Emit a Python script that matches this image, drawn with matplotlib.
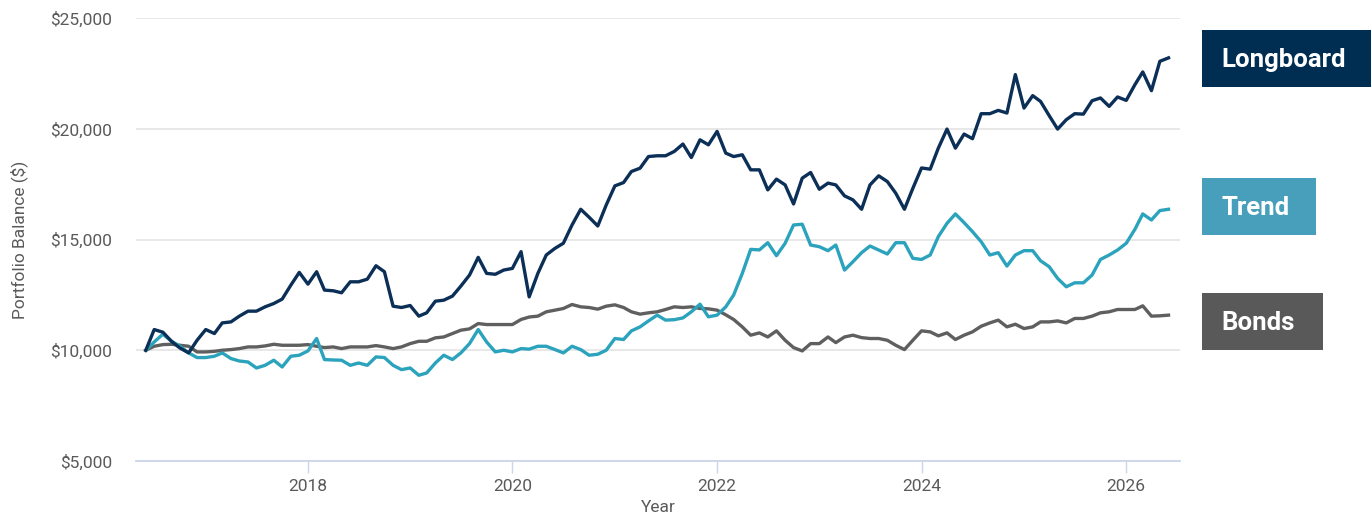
import numpy as np
import pandas as pd
from matplotlib import pyplot as plt
import matplotlib.dates as mdates
from matplotlib.patches import Rectangle
from matplotlib.ticker import FuncFormatter

plt.rcParams['font.family'] = ['Roboto', 'DejaVu Sans']

# monthly portfolio balances, June 2016 - June 2026
months = pd.date_range('2016-06-01', periods=121, freq='MS')

longboard = [10000, 10935, 10815, 10400, 10100, 9880, 10450, 10935, 10755, 11235,
             11280, 11540, 11765, 11765, 11960, 12110, 12310, 12940, 13515, 12985,
             13545, 12715, 12685, 12595, 13090, 13090, 13210, 13815, 13545, 11990,
             11930, 12020, 11540, 11690, 12215, 12260, 12445, 12895, 13395, 14195,
             13470, 13430, 13620, 13695, 14450, 12410, 13470, 14300, 14600, 14830,
             15655, 16365, 16005, 15610, 16555, 17420, 17570, 18070, 18220, 18745,
             18780, 18780, 18975, 19310, 18700, 19500, 19275, 19880, 18900, 18745,
             18825, 18145, 18145, 17240, 17725, 17465, 16605, 17770, 18025, 17270,
             17545, 17465, 16970, 16790, 16365, 17465, 17875, 17615, 17090, 16365,
             17310, 18230, 18175, 19125, 19985, 19125, 19760, 19550, 20680, 20680,
             20830, 20710, 22445, 20935, 21495, 21235, 20590, 19985, 20410, 20680,
             20660, 21265, 21390, 21010, 21435, 21280, 21990, 22565, 21720, 23045,
             23200]

trend = [10000, 10375, 10725, 10405, 10180, 9880, 9670, 9670, 9730, 9880,
         9625, 9515, 9470, 9200, 9320, 9550, 9245, 9730, 9775, 9970,
         10530, 9580, 9560, 9550, 9320, 9425, 9320, 9700, 9670, 9320,
         9125, 9200, 8870, 8975, 9425, 9775, 9580, 9880, 10300, 10935,
         10375, 9925, 10000, 9925, 10075, 10050, 10180, 10180, 10030, 9880,
         10180, 10030, 9775, 9820, 10000, 10530, 10485, 10875, 11055, 11325,
         11585, 11360, 11380, 11460, 11735, 12080, 11510, 11585, 11960, 12490,
         13470, 14555, 14530, 14855, 14270, 14830, 15655, 15690, 14750, 14675,
         14495, 14750, 13620, 13995, 14405, 14705, 14525, 14345, 14855, 14855,
         14150, 14100, 14300, 15130, 15730, 16155, 15760, 15355, 14900, 14300,
         14405, 13800, 14300, 14495, 14495, 14040, 13770, 13245, 12865, 13045,
         13045, 13395, 14100, 14300, 14525, 14830, 15460, 16155, 15880, 16305,
         16365]

bonds = [10000, 10180, 10255, 10270, 10225, 10180, 9925, 9925, 9950, 10000,
         10030, 10075, 10150, 10150, 10195, 10270, 10225, 10225, 10225, 10255,
         10180, 10120, 10150, 10075, 10150, 10150, 10150, 10210, 10150, 10075,
         10150, 10300, 10405, 10405, 10560, 10600, 10755, 10905, 10965, 11205,
         11160, 11160, 11160, 11160, 11390, 11500, 11540, 11735, 11810, 11885,
         12065, 11960, 11930, 11855, 11990, 12050, 11930, 11735, 11630, 11690,
         11735, 11840, 11960, 11930, 11960, 11885, 11870, 11810, 11600, 11390,
         11055, 10680, 10785, 10600, 10875, 10450, 10120, 9970, 10300, 10300,
         10600, 10345, 10600, 10680, 10570, 10530, 10530, 10450, 10225, 10030,
         10450, 10875, 10830, 10650, 10785, 10485, 10680, 10830, 11085, 11235,
         11360, 11055, 11175, 10980, 11055, 11280, 11280, 11325, 11235, 11435,
         11435, 11540, 11690, 11735, 11840, 11840, 11840, 12005, 11540, 11555,
         11585]

series_names = ['Longboard', 'Trend', 'Bonds']
line_colors = ['#0b2f56', '#2ba3bd', '#5f5f5f']
box_colors = ['#002d52', '#479fbb', '#595959']
y_ticks = [5000, 10000, 15000, 20000, 25000]
x_tick_years = [2018, 2020, 2022, 2024, 2026]

W, H = 1371, 512
fig = plt.figure(figsize=(W / 100, H / 100), dpi=100)
ax = fig.add_axes([136 / W, 1 - 461 / H, (1180 - 136) / W, (461 - 18) / H])

# draw bonds first so longboard sits on top
for vals, color in zip([bonds, trend, longboard], line_colors[::-1]):
    ax.plot(months, vals, color=color, lw=2.4, solid_joinstyle='round', clip_on=False)

ax.set_ylim(5000, 25000)
ax.set_yticks(y_ticks)
ax.yaxis.set_major_formatter(FuncFormatter(lambda v, p: '${:,.0f}'.format(v)))
ax.set_xlim(pd.Timestamp('2016-04-27'), pd.Timestamp('2026-07-12'))
ax.set_xticks([pd.Timestamp('%d-01-01' % y) for y in x_tick_years])
ax.xaxis.set_major_formatter(mdates.DateFormatter('%Y'))

ax.yaxis.grid(True, color='#e6e6e6', lw=1.3)
ax.set_axisbelow(True)
for s in ['top', 'right', 'left']:
    ax.spines[s].set_visible(False)
ax.spines['bottom'].set_color('#ccd6eb')
ax.spines['bottom'].set_linewidth(1.3)

ax.tick_params(axis='y', length=0, pad=17, labelsize=12.5, labelcolor='#5a5a5a')
ax.tick_params(axis='x', length=8.5, width=1, color='#ccd6eb', pad=4.5,
               labelsize=12.5, labelcolor='#5a5a5a')

ax.set_ylabel('Portfolio Balance ($)', fontsize=12.5, color='#5a5a5a', labelpad=16)
ax.set_xlabel('Year', fontsize=12.5, color='#5a5a5a', labelpad=4)

# coloured name boxes on the right
boxes = [(30, 87, 169, 66.7), (178, 235, 114, 215), (293, 350, 121, 330)]
for (top, bottom, width, base), name, color in zip(boxes, series_names, box_colors):
    fig.patches.append(Rectangle((1202 / W, 1 - bottom / H), width / W, (bottom - top) / H,
                                 transform=fig.transFigure, color=color, lw=0))
    fig.text(1221 / W, 1 - base / H, name, color='white', fontsize=18.5,
             fontweight='bold', va='baseline', ha='left')

fig.savefig('out.png', dpi=100)
